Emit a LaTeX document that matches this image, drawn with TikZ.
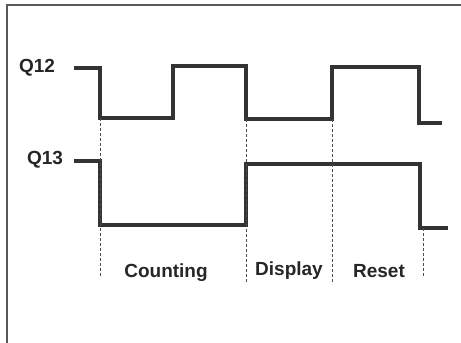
\documentclass[tikz,border=0pt]{standalone}
\usepackage{fontspec}
\setmainfont{Liberation Sans}
\usepackage{tikz}

\begin{document}
\begin{tikzpicture}[x=1pt,y=-1pt,
        wave/.style = {line width=3.4pt, color=black!80},
        guide/.style = {line width=1pt, dash pattern=on 3pt off 2pt, color=black!70},
        sig/.style = {font=\fontsize{19}{22}\selectfont\bfseries, text=black!85},
        phase/.style = {font=\fontsize{19}{22}\selectfont\bfseries, text=black!85}]
        \useasboundingbox (0,0) rectangle (461,343);
        \draw[line width=1.6pt, black!65] (7,343) -- (7,5) -- (461,5);
        % signal names
        \node[sig] (q12) at (37,68) {Q12};
        \node[sig] (q13) at (45,160) {Q13};
        % Q12
        \draw[wave] (74,68) -- (100,68) -- (100,118) -- (173,118) -- (173,66)
                -- (246,66) -- (246,119) -- (332,119) -- (332,67) -- (419,67)
                -- (419,123) -- (442,123);
        % Q13
        \draw[wave] (74,161) -- (100,161) -- (100,225) -- (246,225) -- (246,164)
                -- (420,164) -- (420,228) -- (448,228);
        % phase boundaries
        \draw[guide] (100,118) -- (100,276);
        \draw[guide] (246,119) -- (246,283);
        \draw[guide] (332,119) -- (332,284);
        \draw[guide] (423,228) -- (423,276);
        % phases
        \node[phase] (count) at (166,273) {Counting};
        \node[phase] (disp) at (289,271) {Display};
        \node[phase] (reset) at (379,271) {Reset};
\end{tikzpicture}
\end{document}
